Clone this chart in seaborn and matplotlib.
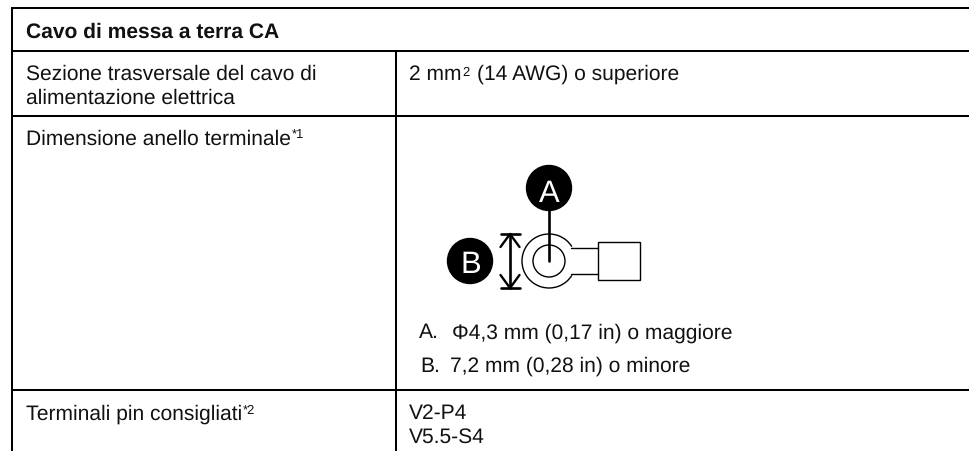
import matplotlib
matplotlib.use("Agg")
import matplotlib.pyplot as plt
import seaborn as sns
from matplotlib.patches import Circle, Arc, Rectangle

title = "Cavo di messa a terra CA"
row_labels = ["Sezione trasversale del cavo di", "alimentazione elettrica", "Dimensione anello terminale", "Terminali pin consigliati"]
row_notes = ["*1", "*2"]
section_value = ["2 mm", "2", "(14 AWG) o superiore"]
pin_values = ["V2-P4", "V5.5-S4"]
ring_keys = ["A.", "B."]
ring_notes = ["Φ4,3 mm (0,17 in) o maggiore", "7,2 mm (0,28 in) o minore"]

sns.set_theme(style="white")
plt.rcParams['font.family'] = ['Liberation Sans', 'DejaVu Sans']
plt.rcParams['text.hinting'] = 'no_hinting'
plt.rcParams['text.hinting_factor'] = 1

fig = plt.figure(figsize=(9.7, 4.52), dpi=100)
ax = fig.add_axes([0, 0, 1, 1])
ax.set_xlim(0, 970)
ax.set_ylim(452, 0)
ax.axis("off")

# table rules, no right or bottom border
rule = dict(color="black", lw=1.45, solid_capstyle="butt")
ax.plot([12, 12], [8, 452], **rule)
ax.plot([396, 396], [52, 452], **rule)
for y in [9, 52, 117, 391]:
    ax.plot([12, 970], [y, y], **rule)

fs = 15.05
txt = dict(fontsize=fs, va="baseline", color="#111111")
sup = dict(fontsize=9.3, va="baseline", color="#111111")


def after(t):
    # right edge of a text, in pixels
    box = t.get_window_extent(fig.canvas.get_renderer())
    return box.x1


ax.text(26, 38, title, fontweight="bold", **txt)
ax.text(26, 79.5, row_labels[0], **txt)
ax.text(26, 103.5, row_labels[1], **txt)
t1 = ax.text(26, 144.5, row_labels[2], **txt)
t2 = ax.text(26, 420, row_labels[3], **txt)
ax.text(after(t1) + 0.5, 138, row_notes[0], **sup)
ax.text(after(t2) + 0.5, 414, row_notes[1], **sup)

t3 = ax.text(409, 80, section_value[0], **txt)
t4 = ax.text(after(t3) + 0.5, 76.5, section_value[1], **sup)
ax.text(after(t4) + 7.5, 80, section_value[2], **txt)
ax.text(409, 419, pin_values[0], **txt)
ax.text(409, 443, pin_values[1], **txt)
ax.text(419, 338.5, ring_keys[0], **txt)
ax.text(420, 372, ring_keys[1], **txt)
ax.text(452, 338.5, ring_notes[0], **txt)
ax.text(450.5, 372, ring_notes[1], **txt)

# ring terminal drawing
thin = 1.0
ax.add_patch(Arc((549, 262), 54, 54, theta1=-148, theta2=148, angle=180, color="black", lw=thin))
ax.add_patch(Circle((549, 262), 16, fill=False, color="black", lw=thin))
ax.plot([571, 598], [249, 249], color="black", lw=thin)
ax.plot([571, 598], [275, 275], color="black", lw=thin)
ax.add_patch(Rectangle((598, 243), 42, 37.5, fill=False, color="black", lw=thin))

heavy = 1.9
ax.plot([549, 549], [189, 262], color="black", lw=heavy)
ax.plot([510, 510], [235, 289], color="black", lw=heavy)
ax.plot([501, 520], [235, 235], color="black", lw=heavy)
ax.plot([501, 520], [289, 289], color="black", lw=heavy)
ax.plot([500.5, 510, 519.5], [248, 235, 248], color="black", lw=1.7)
ax.plot([500.5, 510, 519.5], [276, 289, 276], color="black", lw=1.7)

ax.add_patch(Circle((549, 189), 22.5, color="black"))
ax.add_patch(Circle((470, 262), 22.5, color="black"))
ax.text(549, 202, "A", fontsize=22.5, color="white", ha="center", va="baseline")
ax.text(470.5, 273.5, "B", fontsize=22.5, color="white", ha="center", va="baseline")

fig.savefig("out.png", dpi=100)
